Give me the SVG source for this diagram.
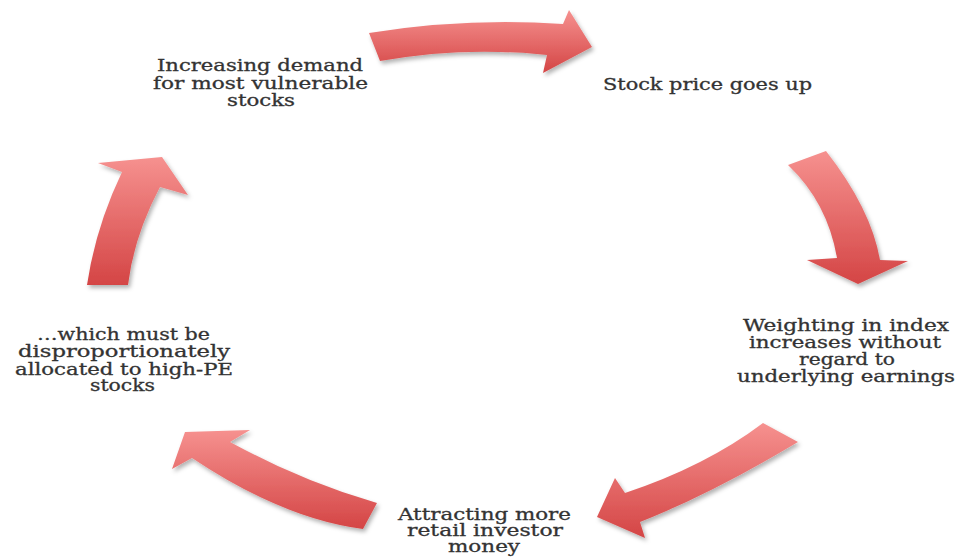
<svg xmlns="http://www.w3.org/2000/svg" width="970" height="557" viewBox="0 0 970 557">
  <defs>
    <linearGradient id="redFill" x1="0" y1="0" x2="0" y2="1">
      <stop offset="0" stop-color="#f6918f"/>
      <stop offset="1" stop-color="#d44545"/>
    </linearGradient>
    <filter id="shade" x="-20%" y="-20%" width="140%" height="140%">
      <feDropShadow dx="2" dy="3" stdDeviation="2" flood-color="#000" flood-opacity="0.3"/>
    </filter>
    <style>
      .arrow { fill: url(#redFill); filter: url(#shade); }
      .label { font-family: "DejaVu Serif", "Liberation Serif", serif; font-size: 16px; fill: #333333; stroke: #333333; stroke-width: 0.3px; text-anchor: middle; }
    </style>
  </defs>

  <rect width="970" height="557" fill="#ffffff"/>

  <!-- curved block arrows linking the stages of the cycle -->
  <g id="connectors">
    <path class="arrow" d="M369,33 Q466,17.5 563,24 L569,10 L592,47 L543,73 L547,55 Q463,46 380,61 Z"/>
    <path class="arrow" d="M788,165 L826,151 Q871,208.5 880,260 L908,261 L858,284 L807,260 L837,258 Q827.5,202.5 788,165 Z"/>
    <path class="arrow" d="M763,423 L798,442 Q711,494 640,522 L645,538 L597,517 L615,478 L625,493 Q706,466 763,423 Z"/>
    <path class="arrow" d="M377,503 L363,529 Q282.5,518.5 192,458 L172,469 L185,432 L250,430 L230,442 Q302.5,481.5 377,503 Z"/>
    <path class="arrow" d="M87,285 Q95.5,227.5 122,172 L98,163 L162,157 L188,195 L160,187 Q134,236 128,285 Z"/>
  </g>

  <g id="node-demand">
    <text class="label" x="260" y="71" textLength="206" lengthAdjust="spacingAndGlyphs">Increasing demand</text>
    <text class="label" x="260.5" y="88.5" textLength="215" lengthAdjust="spacingAndGlyphs">for most vulnerable</text>
    <text class="label" x="261" y="106" textLength="68" lengthAdjust="spacingAndGlyphs">stocks</text>
  </g>

  <g id="node-price">
    <text class="label" x="707.5" y="90" textLength="209" lengthAdjust="spacingAndGlyphs">Stock price goes up</text>
  </g>

  <g id="node-weighting">
    <text class="label" x="846" y="331" textLength="206" lengthAdjust="spacingAndGlyphs">Weighting in index</text>
    <text class="label" x="845" y="348" textLength="192" lengthAdjust="spacingAndGlyphs">increases without</text>
    <text class="label" x="847" y="365" textLength="96" lengthAdjust="spacingAndGlyphs">regard to</text>
    <text class="label" x="846" y="382" textLength="218" lengthAdjust="spacingAndGlyphs">underlying earnings</text>
  </g>

  <g id="node-retail">
    <text class="label" x="484.5" y="520" textLength="173" lengthAdjust="spacingAndGlyphs">Attracting more</text>
    <text class="label" x="485" y="536" textLength="156" lengthAdjust="spacingAndGlyphs">retail investor</text>
    <text class="label" x="484" y="552" textLength="72" lengthAdjust="spacingAndGlyphs">money</text>
  </g>

  <g id="node-allocation">
    <text class="label" x="123.5" y="340" textLength="173" lengthAdjust="spacingAndGlyphs">…which must be</text>
    <text class="label" x="124" y="357" textLength="212" lengthAdjust="spacingAndGlyphs">disproportionately</text>
    <text class="label" x="124" y="375" textLength="218" lengthAdjust="spacingAndGlyphs">allocated to high-PE</text>
    <text class="label" x="122.5" y="391" textLength="65" lengthAdjust="spacingAndGlyphs">stocks</text>
  </g>
</svg>
